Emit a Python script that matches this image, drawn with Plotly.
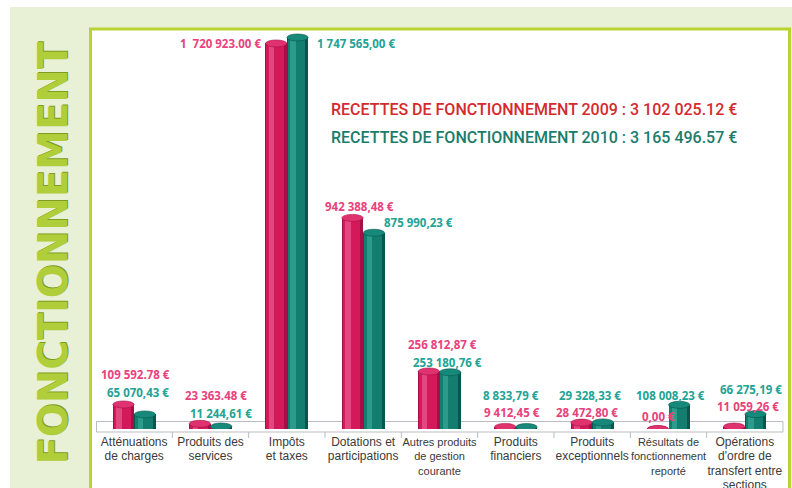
import plotly.graph_objects as go

# ---------------- data ----------------
categories = [
    "Atténuations<br>de charges",
    "Produits des<br>services",
    "Impôts<br>et taxes",
    "Dotations et<br>participations",
    "Autres produits<br>de gestion<br>courante",
    "Produits<br>financiers",
    "Produits<br>exceptionnels",
    "Résultats de<br>fonctionnement<br>reporté",
    "Opérations<br>d'ordre de<br>transfert entre<br>sections",
]
values_2009 = [109592.78, 23363.48, 1720923.00, 942388.48, 256812.87,
               9412.45, 28472.80, 0.00, 11059.26]
values_2010 = [65070.43, 11244.61, 1747565.00, 875990.23, 253180.76,
               8833.79, 29328.33, 108008.23, 66275.19]
labels_2009 = ["109 592.78 €", "23 363.48 €", "1  720 923.00 €", "942 388,48 €",
               "256 812,87 €", "9 412,45 €", "28 472,80 €", "0,00 €", "11 059,26 €"]
labels_2010 = ["65 070,43 €", "11 244,61 €", "1 747 565,00 €", "875 990,23 €",
               "253 180,76 €", "8 833,79 €", "29 328,33 €", "108 008,23 €", "66 275,19 €"]
title_2009 = "RECETTES DE FONCTIONNEMENT 2009 : 3 102 025.12 €"
title_2010 = "RECETTES DE FONCTIONNEMENT 2010 : 3 165 496.57 €"
side_title = "FONCTIONNEMENT"

# ---------------- layout constants ----------------
W, H = 792, 488
XL, XR = 96, 783          # x data area in pixels
YB, YT = 429, 28          # y data area in pixels
YMAX = 1790000

def px(x):
    return x / W

def py(y):
    return 1 - y / H

BW = 0.28
OFF = 0.14

PINK = dict(dark="#a50f45", main="#d3195a", light="#e4467f", top="#e0336e", text="#e8427b")
TEAL = dict(dark="#09564c", main="#137e70", light="#2b9c8c", top="#16897a", text="#22a396")

# label offsets (xshift, yshift, xanchor) relative to bar tops
lab_off_2009 = [(12, 30, "center"), (16, 28, "center"), (-13, 0, "right"), (7, 11, "center"),
                (14, 27, "center"), (7, 14, "center"), (6, 10, "center"), (1, 13, "center"),
                (14, 20, "center")]
lab_off_2010 = [(-7, 22, "center"), (0, 13, "center"), (17, -6, "left"), (45, 10, "center"),
                (-3, 10, "center"), (-16, 32, "center"), (-13, 27, "center"), (-9, 9, "center"),
                (-5, 25, "center")]
# tick label font sizes per category
tick_sizes = [12, 12, 12, 12, 11, 12, 12, 11, 12]

fig = go.Figure()

shapes = []
# background
shapes.append(dict(type="rect", xref="paper", yref="paper", x0=px(10), x1=px(800),
                   y0=py(7), y1=py(500), fillcolor="#e8f0d6", line=dict(width=0), layer="below"))
shapes.append(dict(type="rect", xref="paper", yref="paper", x0=px(90.5), x1=px(789.5),
                   y0=py(29), y1=py(520), fillcolor="white",
                   line=dict(color="#b8d332", width=3), layer="below"))
# floor
shapes.append(dict(type="rect", xref="paper", yref="paper", x0=px(XL + 0.5), x1=px(XR),
                   y0=py(421.5), y1=py(432), fillcolor="rgba(0,0,0,0)",
                   line=dict(color="#b9bdc1", width=1), layer="below"))
for i in range(len(categories) - 1):
    shapes.append(dict(type="line", xref="x", yref="paper", x0=i + 0.5, x1=i + 0.5,
                       y0=py(432), y1=py(438), line=dict(color="#b9bdc1", width=1), layer="below"))

def add_cylinders(values, sign, col, name):
    xs = [i + sign * OFF for i in range(len(values))]
    fig.add_trace(go.Bar(x=xs, y=values, width=BW, marker=dict(color=col["dark"], line=dict(width=0)),
                         name=name, showlegend=False, hoverinfo="skip"))
    fig.add_trace(go.Bar(x=[x - 0.012 for x in xs], y=values, width=BW - 0.05,
                         marker=dict(color=col["main"], line=dict(width=0)),
                         showlegend=False, hoverinfo="skip"))
    fig.add_trace(go.Bar(x=[x - 0.06 for x in xs], y=values, width=0.07,
                         marker=dict(color=col["light"], line=dict(width=0)),
                         showlegend=False, hoverinfo="skip"))
    for x, v in zip(xs, values):
        shapes.append(dict(type="circle", xref="x", yref="y", x0=x - BW / 2, x1=x + BW / 2,
                           ysizemode="pixel", yanchor=0, y0=-3.5, y1=3.5,
                           fillcolor=col["dark"], line=dict(width=0), layer="below"))
        shapes.append(dict(type="circle", xref="x", yref="y", x0=x - BW / 2, x1=x + BW / 2,
                           ysizemode="pixel", yanchor=v, y0=-3.5, y1=3.5,
                           fillcolor=col["top"], line=dict(color=col["dark"], width=0.6)))
    return xs

xs09 = add_cylinders(values_2009, -1, PINK, "2009")
xs10 = add_cylinders(values_2010, 1, TEAL, "2010")

annotations = []
lab_font = "Open Sans, DejaVu Sans, sans-serif"
for xs, vals, labs, offs, col in [(xs09, values_2009, labels_2009, lab_off_2009, PINK),
                                  (xs10, values_2010, labels_2010, lab_off_2010, TEAL)]:
    for x, v, t, (dx, dy, anc) in zip(xs, vals, labs, offs):
        annotations.append(dict(x=x, y=v, xref="x", yref="y", text=t, showarrow=False,
                                xanchor=anc, yanchor="middle", xshift=dx, yshift=dy,
                                font=dict(family=lab_font, size=11.5, color=col["text"], weight="bold")))

title_font = "Roboto, Liberation Sans, sans-serif"
annotations.append(dict(x=px(329), y=py(110), xref="paper", yref="paper", text=title_2009,
                        showarrow=False, xanchor="left", yanchor="middle",
                        font=dict(family=title_font, size=16, weight=500, color="#d42a2e")))
annotations.append(dict(x=px(329), y=py(137.5), xref="paper", yref="paper", text=title_2010,
                        showarrow=False, xanchor="left", yanchor="middle",
                        font=dict(family=title_font, size=16, weight=500, color="#1b7c6c")))
annotations.append(dict(x=px(52.5), y=py(253), xref="paper", yref="paper", text=side_title,
                        showarrow=False, textangle=-90, xanchor="center", yanchor="middle",
                        font=dict(family="DejaVu Sans, sans-serif", size=40, weight="bold",
                                  color="#b0cd3a", shadow="1px 1px 0px #7e9c1e")))

ticktext = ["<br>".join('<span style="font-size:%dpx">%s</span>' % (s, part)
                        for part in c.split("<br>"))
            for c, s in zip(categories, tick_sizes)]

fig.update_layout(
    width=W, height=H, autosize=False,
    margin=dict(l=0, r=0, t=0, b=0, pad=0),
    paper_bgcolor="white", plot_bgcolor="rgba(0,0,0,0)",
    barmode="overlay", bargap=0,
    showlegend=False,
    shapes=shapes, annotations=annotations,
    xaxis=dict(domain=[px(XL), px(XR)], range=[-0.5, 8.5], tickmode="array",
               tickvals=list(range(len(categories))), ticktext=ticktext,
               tickangle=0,
               showgrid=False, zeroline=False, showline=False, ticks="",
               ticklabelstandoff=5, automargin=False,
               tickfont=dict(family="Liberation Sans, Arial, sans-serif", size=11, color="#3a3a3a")),
    yaxis=dict(domain=[py(YB), py(YT)], range=[0, YMAX], visible=False,
               showgrid=False, zeroline=False, automargin=False),
)

fig.write_html("out.html", config={"displayModeBar": False},
               post_script="document.body.style.margin='0px';")
